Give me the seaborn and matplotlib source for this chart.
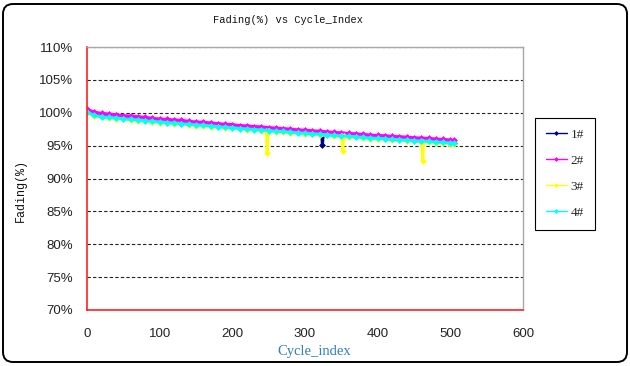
import pandas as pd
import matplotlib.pyplot as plt
import seaborn as sns
from matplotlib.lines import Line2D
from matplotlib.patches import FancyBboxPatch
from matplotlib.ticker import MultipleLocator, FuncFormatter

# Cycle index (one reading every 10 cycles, last one at 505)
cycles = list(range(0, 501, 10)) + [505]

# Capacity retention (%) per cell
fade_1 = [100.15, 99.65, 99.45, 99.35, 99.25, 99.15, 99.05, 98.95, 98.85, 98.75,
          98.65, 98.55, 98.5, 98.4, 98.3, 98.2, 98.15, 98.05, 97.95, 97.85,
          97.8, 97.65, 97.6, 97.5, 97.45, 97.35, 97.25, 97.2, 97.1, 97.0,
          96.95, 96.85, 96.75, 96.7, 96.6, 96.55, 96.45, 96.4, 96.3, 96.2,
          96.15, 96.1, 96.0, 95.95, 95.9, 95.8, 95.75, 95.7, 95.6, 95.55,
          95.45, 95.4]
fade_2 = [100.5, 100.1, 99.9, 99.8, 99.7, 99.55, 99.5, 99.4, 99.3, 99.15,
          99.05, 99.0, 98.9, 98.85, 98.7, 98.6, 98.55, 98.45, 98.35, 98.25,
          98.2, 98.05, 98.0, 97.9, 97.85, 97.75, 97.65, 97.6, 97.5, 97.4,
          97.35, 97.25, 97.2, 97.1, 97.0, 96.95, 96.85, 96.8, 96.7, 96.6,
          96.55, 96.5, 96.4, 96.35, 96.3, 96.2, 96.15, 96.1, 96.0, 95.95,
          95.85, 95.8]
fade_3 = [100.0, 99.5, 99.3, 99.2, 99.1, 99.0, 98.9, 98.8, 98.7, 98.6,
          98.5, 98.4, 98.35, 98.25, 98.15, 98.05, 98.0, 97.9, 97.8, 97.7,
          97.65, 97.5, 97.45, 97.35, 97.3, 97.2, 97.1, 97.05, 96.95, 96.85,
          96.8, 96.7, 96.65, 96.55, 96.45, 96.4, 96.3, 96.25, 96.15, 96.05,
          96.0, 95.95, 95.85, 95.8, 95.75, 95.65, 95.6, 95.55, 95.45, 95.4,
          95.3, 95.25]
fade_4 = [100.1, 99.6, 99.4, 99.3, 99.2, 99.1, 99.0, 98.9, 98.8, 98.7,
          98.6, 98.5, 98.45, 98.35, 98.25, 98.15, 98.1, 98.0, 97.9, 97.8,
          97.75, 97.6, 97.55, 97.45, 97.4, 97.3, 97.2, 97.15, 97.05, 96.95,
          96.9, 96.8, 96.75, 96.65, 96.55, 96.5, 96.4, 96.35, 96.25, 96.15,
          96.1, 96.05, 95.95, 95.9, 95.85, 95.75, 95.7, 95.65, 95.55, 95.5,
          95.4, 95.35]

# Single-cycle drops (with the readings either side of them)
dip_cycles_1 = [323, 324, 325]
dip_values_1 = [96.7, 95.05, 96.7]
dip_cycles_3 = [247, 248, 249, 351, 352, 353, 461, 462, 463]
dip_values_3 = [97.25, 93.9, 97.25, 96.4, 94.2, 96.4, 95.6, 92.7, 95.6]

cells = ['1#', '2#', '3#', '4#']
colors = ['#000080', '#FF00FF', '#FFFF00', '#00FFFF']

# Build long table for seaborn
series = {
    '1#': (cycles + dip_cycles_1, fade_1 + dip_values_1),
    '2#': (cycles, fade_2),
    '3#': (cycles + dip_cycles_3, fade_3 + dip_values_3),
    '4#': (cycles, fade_4),
}
frames = []
for name in cells:
    xs, ys = series[name]
    frames.append(pd.DataFrame({'Cycle_index': xs, 'Fading': ys, 'Cell': name}))
df = pd.concat(frames, ignore_index=True).sort_values(['Cell', 'Cycle_index'])

sns.set_style("white")
plt.rcParams['font.family'] = ['Liberation Sans', 'DejaVu Sans']

fig = plt.figure(figsize=(6.3, 3.66), dpi=100)
ax = fig.add_axes([87 / 630, 1 - 310 / 366, (523 - 87) / 630, (310 - 47) / 366])

sns.lineplot(
    data=df, x='Cycle_index', y='Fading', hue='Cell',
    palette=dict(zip(cells, colors)), hue_order=cells,
    marker='D', markersize=3.5, markeredgewidth=0,
    linewidth=2.2, estimator=None, legend=False, ax=ax
)

# Axes formatting
ax.set_xlim(0, 600)
ax.set_ylim(70, 110)
ax.xaxis.set_major_locator(MultipleLocator(100))
ax.xaxis.set_minor_locator(MultipleLocator(20))
ax.yaxis.set_major_locator(MultipleLocator(5))
ax.yaxis.set_minor_locator(MultipleLocator(1))
ax.yaxis.set_major_formatter(FuncFormatter(lambda v, p: f'{v:.0f}%'))
ax.tick_params(which='both', direction='in', color='#FF2020', length=3, width=1,
               labelsize=9.5, labelcolor='#222222', top=False, right=False)
ax.tick_params(axis='x', pad=13)
ax.tick_params(axis='y', pad=10)
ax.set_xlabel('')
ax.set_ylabel('')

for side in ['left', 'bottom']:
    ax.spines[side].set_color('#FF2020')
    ax.spines[side].set_linewidth(1.2)
for side in ['top', 'right']:
    ax.spines[side].set_color('#A8A8A8')
    ax.spines[side].set_linewidth(1.0)

ax.grid(axis='y', which='major', linestyle=(0, (3, 2)), color='#222222', linewidth=0.8)
ax.grid(axis='x', visible=False)
ax.set_axisbelow(True)

# Texts
fig.text(288 / 630, 1 - 20 / 366, 'Fading(%) vs Cycle_Index', ha='center', va='center',
         family=['Liberation Mono', 'DejaVu Sans Mono'], fontsize=7.5, color='#111111')
fig.text(21 / 630, 1 - 190 / 366, 'Fading(%)', ha='center', va='center', rotation=90,
         family=['Liberation Mono', 'DejaVu Sans Mono'], fontsize=8.5, color='#111111')
fig.text(314 / 630, 1 - 352 / 366, 'Cycle_index', ha='center', va='center',
         family=['Liberation Serif', 'DejaVu Serif'], fontsize=10.5, color='#2F7DC4')

# Legend with thin lines and small markers
handles = [Line2D([0], [0], color=c, lw=1, marker='D', markersize=2.5, markeredgewidth=0)
           for c in colors]
leg = ax.legend(handles, cells, loc='upper left',
                bbox_to_anchor=(535 / 630, 1 - 118 / 366), bbox_transform=fig.transFigure,
                frameon=True, fancybox=False, edgecolor='black', framealpha=1,
                prop={'family': ['Liberation Serif', 'DejaVu Serif'], 'size': 9.5},
                labelspacing=1.05, borderpad=0.8, handlelength=1.6, handletextpad=0.3,
                borderaxespad=0)
leg.get_frame().set_linewidth(0.8)

# Rounded outer frame
fig.add_artist(FancyBboxPatch((0.03, 0.04), 6.24, 3.58,
                              boxstyle='round,pad=0,rounding_size=0.1',
                              transform=fig.dpi_scale_trans, fill=False,
                              edgecolor='black', linewidth=1.4))

fig.savefig('out.png', dpi=100)
